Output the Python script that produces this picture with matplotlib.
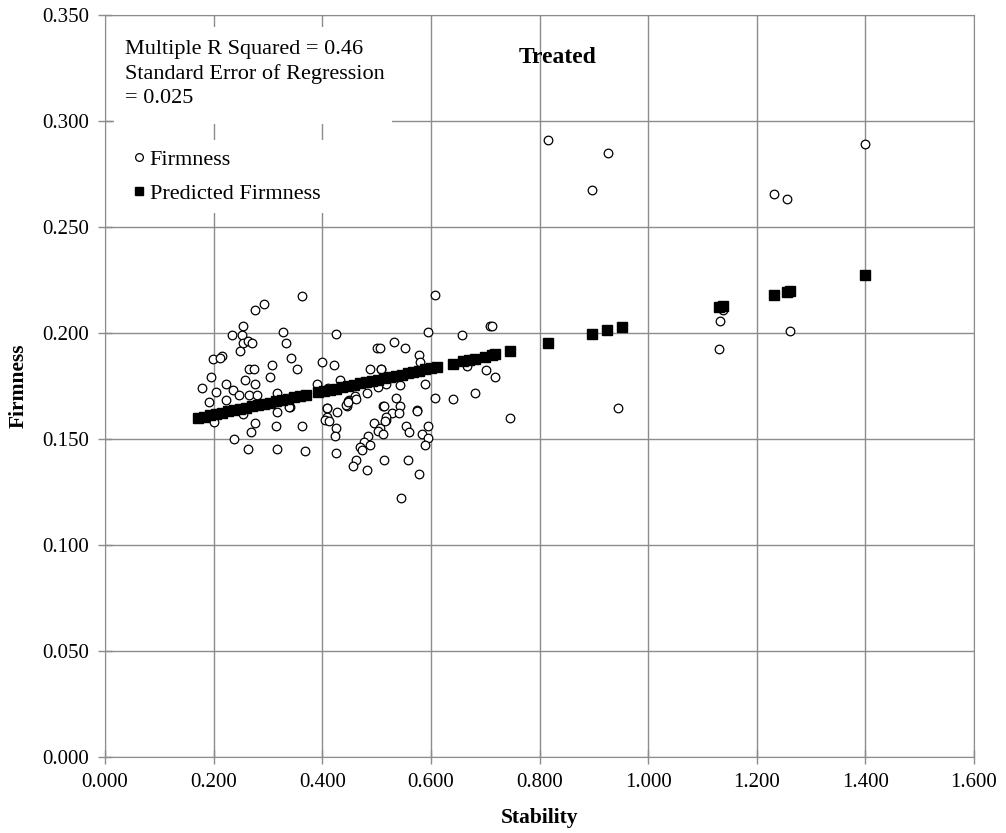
import matplotlib
matplotlib.use("Agg")
import matplotlib.pyplot as plt
from matplotlib.patches import Rectangle

plt.rcParams['font.family'] = ['Liberation Serif', 'DejaVu Serif']

firm_x = [0.292, 0.277, 0.254, 0.253, 0.234, 0.255, 0.263, 0.271, 0.249, 0.199,
          0.215, 0.212, 0.265, 0.274, 0.307, 0.196, 0.303, 0.258, 0.179, 0.222,
          0.277, 0.236, 0.205, 0.246, 0.266, 0.279, 0.192, 0.222, 0.200, 0.255,
          0.276, 0.269, 0.317, 0.315, 0.238, 0.263, 0.317, 0.362, 0.327, 0.333,
          0.426, 0.501, 0.343, 0.354, 0.400, 0.422, 0.488, 0.508, 0.433, 0.391,
          0.316, 0.482, 0.503, 0.460, 0.450, 0.447, 0.512, 0.408, 0.445, 0.340,
          0.410, 0.607, 0.595, 0.658, 0.709, 0.532, 0.552, 0.506, 0.578, 0.580,
          0.509, 0.666, 0.701, 0.718, 0.543, 0.589, 0.518, 0.536, 0.544, 0.607,
          0.640, 0.681, 0.574, 0.339, 0.362, 0.368, 0.409, 0.408, 0.405, 0.413,
          0.428, 0.426, 0.423, 0.425, 0.444, 0.448, 0.462, 0.495, 0.517, 0.506,
          0.503, 0.511, 0.484, 0.477, 0.488, 0.469, 0.473, 0.462, 0.456, 0.482,
          0.514, 0.529, 0.541, 0.517, 0.515, 0.575, 0.554, 0.560, 0.583, 0.595,
          0.595, 0.589, 0.513, 0.558, 0.579, 0.545, 0.712, 0.745, 0.816, 0.897,
          0.926, 0.945, 1.130, 1.133, 1.137, 1.231, 1.255, 1.261, 1.400]
firm_y = [0.2138, 0.2110, 0.2031, 0.1992, 0.1989, 0.1953, 0.1961, 0.1953, 0.1914, 0.1879,
          0.1890, 0.1880, 0.1830, 0.1830, 0.1851, 0.1791, 0.1791, 0.1780, 0.1741, 0.1761,
          0.1761, 0.1733, 0.1722, 0.1709, 0.1709, 0.1709, 0.1673, 0.1682, 0.1582, 0.1618,
          0.1574, 0.1535, 0.1629, 0.1563, 0.1500, 0.1453, 0.1453, 0.2176, 0.2005, 0.1953,
          0.1995, 0.1929, 0.1882, 0.1830, 0.1862, 0.1851, 0.1830, 0.1830, 0.1780, 0.1761,
          0.1717, 0.1717, 0.1745, 0.1701, 0.1686, 0.1678, 0.1657, 0.1646, 0.1654, 0.1649,
          0.1740, 0.2181, 0.2003, 0.1989, 0.2031, 0.1958, 0.1929, 0.1929, 0.1898, 0.1862,
          0.1830, 0.1846, 0.1824, 0.1792, 0.1756, 0.1761, 0.1761, 0.1693, 0.1657, 0.1692,
          0.1689, 0.1717, 0.1638, 0.1653, 0.1563, 0.1442, 0.1645, 0.1602, 0.1591, 0.1587,
          0.1629, 0.1550, 0.1516, 0.1432, 0.1660, 0.1676, 0.1690, 0.1575, 0.1591, 0.1550,
          0.1539, 0.1524, 0.1516, 0.1487, 0.1472, 0.1461, 0.1450, 0.1403, 0.1371, 0.1354,
          0.1403, 0.1623, 0.1623, 0.1602, 0.1587, 0.1630, 0.1563, 0.1531, 0.1524, 0.1563,
          0.1503, 0.1472, 0.1657, 0.1403, 0.1335, 0.1222, 0.2033, 0.1600, 0.2910, 0.2675,
          0.2848, 0.1645, 0.1926, 0.2057, 0.2108, 0.2657, 0.2632, 0.2009, 0.2892]

# predicted firmness from the regression
pred_x = [0.172, 0.183, 0.194, 0.205, 0.216, 0.227, 0.238, 0.249, 0.260, 0.271,
          0.282, 0.293, 0.304, 0.315, 0.326, 0.337, 0.348, 0.359, 0.370, 0.392,
          0.403, 0.414, 0.425, 0.436, 0.447, 0.458, 0.469, 0.480, 0.491, 0.502,
          0.513, 0.524, 0.535, 0.546, 0.557, 0.568, 0.579, 0.590, 0.601, 0.612,
          0.640, 0.660, 0.671, 0.681, 0.700, 0.712, 0.718, 0.745, 0.816, 0.897,
          0.925, 0.951, 1.131, 1.137, 1.231, 1.255, 1.261, 1.400]
pred_y = [0.1600, 0.1606, 0.1612, 0.1618, 0.1624, 0.1630, 0.1636, 0.1642, 0.1648, 0.1654,
          0.1660, 0.1666, 0.1672, 0.1678, 0.1684, 0.1690, 0.1696, 0.1702, 0.1708, 0.1720,
          0.1726, 0.1732, 0.1738, 0.1744, 0.1750, 0.1756, 0.1762, 0.1768, 0.1774, 0.1780,
          0.1786, 0.1792, 0.1798, 0.1804, 0.1810, 0.1817, 0.1823, 0.1829, 0.1835, 0.1841,
          0.1856, 0.1867, 0.1873, 0.1879, 0.1889, 0.1896, 0.1899, 0.1914, 0.1952, 0.1997,
          0.2012, 0.2026, 0.2125, 0.2128, 0.2179, 0.2193, 0.2196, 0.2272]

x_ticks = [0.0, 0.2, 0.4, 0.6, 0.8, 1.0, 1.2, 1.4, 1.6]
y_ticks = [0.0, 0.05, 0.10, 0.15, 0.20, 0.25, 0.30, 0.35]

W, H = 1006, 833
fig = plt.figure(figsize=(W / 100, H / 100), dpi=100)
ax = fig.add_axes([105 / W, 1 - 757 / H, (974 - 105) / W, (757 - 15) / H])

ax.plot(firm_x, firm_y, 'o', ls='none', ms=6.2, mfc='white', mec='black', mew=0.9,
        label='Firmness', zorder=3)
ax.plot(pred_x, pred_y, 's', ls='none', ms=6.6, color='black',
        label='Predicted Firmness', zorder=4)

ax.set_xlim(0, 1.6)
ax.set_ylim(0, 0.35)
ax.set_xticks(x_ticks)
ax.set_yticks(y_ticks)
ax.set_xticklabels(['%.3f' % v for v in x_ticks])
ax.set_yticklabels(['%.3f' % v for v in y_ticks])
ax.grid(True, color='#8c8c8c', lw=1.0)
ax.set_axisbelow(True)
for s in ax.spines.values():
    s.set_color('#8c8c8c')
ax.tick_params(direction='inout', length=10.5, width=1, color='#8c8c8c',
               labelsize=15, pad=6)

ax.set_xlabel('Stability', fontsize=15.5, fontweight='bold', labelpad=12)
ax.set_ylabel('Firmness', fontsize=15.5, fontweight='bold', labelpad=10)

ax.text(0.833, 0.330, 'Treated', fontsize=17, fontweight='bold',
        ha='center', va='center')

# white box behind the regression note (hides the grid like the original)
ax.add_patch(Rectangle((114 / W, 1 - 124 / H), (392 - 114) / W, (124 - 27) / H,
                       transform=fig.transFigure, facecolor='white',
                       edgecolor='none', zorder=2, clip_on=False))
ax.text(125 / W, 1 - 40 / H,
        'Multiple R Squared = 0.46\nStandard Error of Regression\n= 0.025',
        transform=fig.transFigure, fontsize=16, va='top', ha='left',
        linespacing=1.36, zorder=5)

leg = ax.legend(loc='upper left', bbox_to_anchor=(112 / W, 1 - 129 / H),
                bbox_transform=fig.transFigure, fontsize=16, frameon=True,
                fancybox=False, edgecolor='none', facecolor='white', framealpha=1,
                handlelength=0.6, handletextpad=0.2, labelspacing=0.62,
                borderpad=0.4, markerscale=0.9)
leg.set_zorder(6)

fig.savefig('out.png', dpi=100)
